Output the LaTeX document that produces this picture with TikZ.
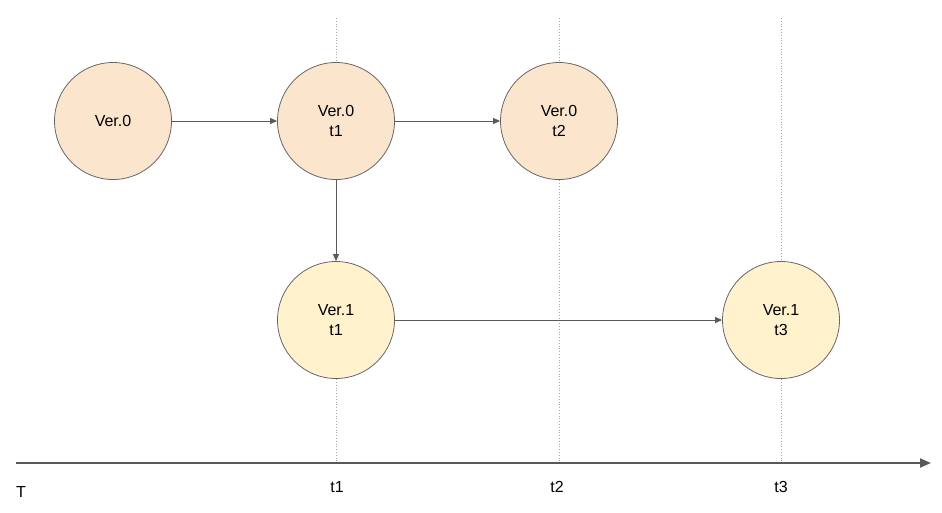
\documentclass[tikz,border=0pt]{standalone}
\usepackage{fontspec}
\setmainfont{Liberation Sans}
\usetikzlibrary{arrows.meta}
\definecolor{peach}{HTML}{FCE5CD}
\definecolor{cream}{HTML}{FFF2CC}
\definecolor{edgegray}{HTML}{666666}
\definecolor{arrgray}{HTML}{595959}
\begin{document}
\begin{tikzpicture}[x=1pt,y=-1pt,
  ver/.style={circle,draw=edgegray,line width=0.8pt,minimum size=117pt,inner sep=0pt,align=center,font=\fontsize{16}{20}\selectfont},
  v0/.style={ver,fill=peach},
  v1/.style={ver,fill=cream},
  conn/.style={draw=arrgray,line width=0.8pt,-{Triangle[length=7pt,width=6pt]}},
  guide/.style={draw=gray!70,line width=0.8pt,dotted},
  axislab/.style={font=\fontsize{16}{18}\selectfont,inner sep=0pt}]
\useasboundingbox (0,0) rectangle (942,512);
% guides
\coordinate (g1t) at (336,18); \coordinate (g1b) at (336,462);
\coordinate (g2t) at (559,18); \coordinate (g2b) at (559,462);
\coordinate (g3t) at (781,18); \coordinate (g3b) at (781,462);
\draw[guide] (g1t) -- (g1b);
\draw[guide] (g2t) -- (g2b);
\draw[guide] (g3t) -- (g3b);
% axis
\coordinate (ax0) at (16,463);
\coordinate (ax1) at (931,463);
\draw[draw=arrgray,line width=2pt,-{Triangle[length=11pt,width=9pt]}] (ax0) -- (ax1);
% nodes
\node[v0] (a) at (113,121) {Ver.0};
\node[v0] (b) at (336,121) {Ver.0\\t1};
\node[v0] (c) at (559,121) {Ver.0\\t2};
\node[v1] (d) at (336,320) {Ver.1\\t1};
\node[v1] (e) at (781,320) {Ver.1\\t3};
% connectors
\draw[conn] (a) -- (b);
\draw[conn] (b) -- (c);
\draw[conn] (b) -- (d);
\draw[conn] (d) -- (e);
% labels
\node[axislab] (lT) at (21,492) {T};
\node[axislab] (l1) at (337,487) {t1};
\node[axislab] (l2) at (557,487) {t2};
\node[axislab] (l3) at (781,487) {t3};
\end{tikzpicture}
\end{document}
